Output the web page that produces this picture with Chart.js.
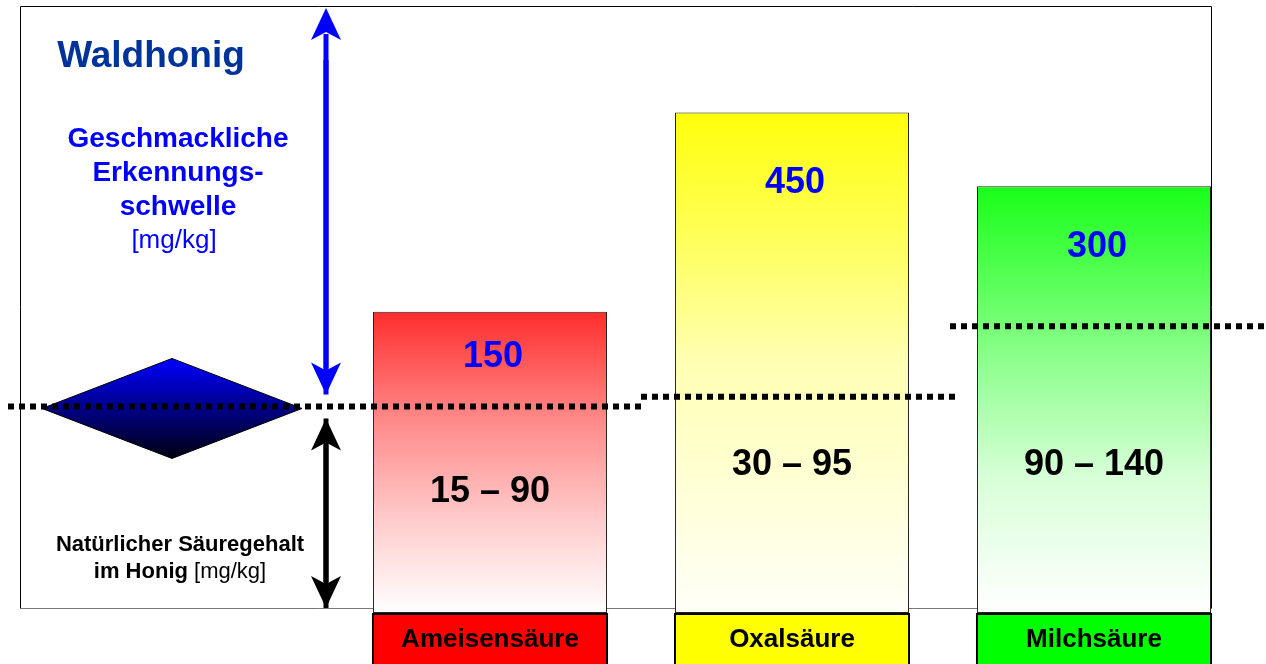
<!DOCTYPE html>
<html><head><meta charset="utf-8">
<script src="https://cdn.jsdelivr.net/npm/chart.js@4"></script>
<style>html,body{margin:0;padding:0;background:#fff;}canvas{display:block;}</style>
</head><body>
<canvas id="c" width="1266" height="664"></canvas>
<script>
// ---- data ----
const categories = ['Ameisensäure', 'Oxalsäure', 'Milchsäure'];
const tasteThreshold = [150, 450, 300];   // Geschmackliche Erkennungsschwelle [mg/kg]
const naturalLow = [15, 30, 90];          // Natürlicher Säuregehalt im Honig, untere Grenze [mg/kg]
const naturalHigh = [90, 95, 140];        // Natürlicher Säuregehalt im Honig, obere Grenze [mg/kg]
const title = 'Waldhonig';
const thresholdText = ['Geschmackliche', 'Erkennungs-', 'schwelle'];
const unitText = '[mg/kg]';
const naturalText = ['Natürlicher Säuregehalt', 'im Honig'];

// ---- styles ----
const barGradients = [
  [[0, 'rgb(255,45,45)'], [0.35, 'rgb(255,135,135)'], [0.7, 'rgb(255,205,205)'], [1, 'rgb(255,255,255)']],
  [[0, 'rgb(255,255,10)'], [0.25, 'rgb(255,255,90)'], [0.5, 'rgb(255,255,180)'], [1, 'rgb(255,255,248)']],
  [[0, 'rgb(25,255,25)'], [0.35, 'rgb(125,255,125)'], [0.68, 'rgb(215,255,215)'], [1, 'rgb(255,255,255)']]
];
const labelColors = ['#ff0000', '#ffff00', '#00ff00'];
const FONT = "'Liberation Sans', Arial, Helvetica, sans-serif";

function arrow(c, x, y1, y2, color) {
  const dir = Math.sign(y2 - y1);
  const headL = 32, headW = 15;
  c.save();
  c.strokeStyle = color; c.fillStyle = color; c.lineWidth = 5;
  c.beginPath(); c.moveTo(x, y1); c.lineTo(x, y2 - dir * (headL - 6)); c.stroke();
  c.beginPath();
  c.moveTo(x, y2);
  c.lineTo(x - headW, y2 - dir * headL);
  c.lineTo(x, y2 - dir * (headL - 8));
  c.lineTo(x + headW, y2 - dir * headL);
  c.closePath(); c.fill();
  c.restore();
}

const deco = {
  id: 'deco',
  beforeDatasetsDraw(chart) {
    const c = chart.ctx;
    const meta = chart.getDatasetMeta(0);
    const last = meta.data[meta.data.length - 1];
    const right = Math.round(last.x + last.width / 2) + 0.5;
    c.save();
    c.lineWidth = 1;
    c.strokeStyle = '#000';
    c.beginPath();
    c.moveTo(20.5, 608.5); c.lineTo(20.5, 6.5); c.lineTo(right, 6.5); c.lineTo(right, 608.5);
    c.stroke();
    c.strokeStyle = '#777';
    c.beginPath(); c.moveTo(20.5, 608.5); c.lineTo(right, 608.5); c.stroke();
    c.restore();
  },
  afterDatasetsDraw(chart) {
    const c = chart.ctx;
    const ys = chart.scales.y;
    const bars = chart.getDatasetMeta(0).data;
    const yHigh = naturalHigh.map(v => ys.getPixelForValue(v) + 2);
    const W = chart.width;

    // diamond (Waldhonig marker)
    const dx = 172, dy = yHigh[0] + 2, hw = 130, hh = 50;
    c.save();
    const g = c.createLinearGradient(0, dy - hh, 0, dy + hh);
    g.addColorStop(0, '#0000ff'); g.addColorStop(1, '#000010');
    c.fillStyle = g; c.strokeStyle = '#000'; c.lineWidth = 1;
    c.beginPath();
    c.moveTo(dx, dy - hh); c.lineTo(dx + hw, dy); c.lineTo(dx, dy + hh); c.lineTo(dx - hw, dy); c.closePath();
    c.fill(); c.stroke();
    c.restore();

    // dotted level lines (upper natural content)
    const b1 = (bars[0].x + bars[1].x) / 2;
    const b2 = (bars[1].x + bars[2].x) / 2;
    const segs = [[8, b1], [b1, b2 + 14], [b2 + 7, W]];
    c.save();
    c.strokeStyle = '#000'; c.lineWidth = 6; c.setLineDash([6, 5]);
    segs.forEach((s, i) => {
      c.beginPath(); c.moveTo(s[0], yHigh[i]); c.lineTo(s[1], yHigh[i]); c.stroke();
    });
    c.restore();

    // arrows
    arrow(c, 326, yHigh[0] - 12, 8, '#0000ff');
    arrow(c, 326, 60, yHigh[0] - 12, '#0000ff');
    arrow(c, 326, 608, yHigh[0] + 12, '#000');
    arrow(c, 326, yHigh[0] + 12, 608, '#000');

    // texts left
    c.save();
    c.textAlign = 'center'; c.textBaseline = 'middle';
    c.fillStyle = '#003399'; c.font = 'bold 37px ' + FONT;
    c.fillText(title, 151, 57);
    c.fillStyle = '#0000ff'; c.font = 'bold 28px ' + FONT;
    thresholdText.forEach((t, i) => c.fillText(t, 178, 139 + i * 34));
    c.font = '26px ' + FONT;
    c.fillText(unitText, 174, 241);

    c.fillStyle = '#000'; c.font = 'bold 22px ' + FONT;
    c.fillText(naturalText[0], 180, 545);
    const bw = c.measureText(naturalText[1] + ' ').width;
    c.font = '22px ' + FONT;
    const uw = c.measureText(unitText).width;
    const sx = 180 - (bw + uw) / 2;
    c.textAlign = 'left';
    c.font = 'bold 22px ' + FONT;
    c.fillText(naturalText[1] + ' ', sx, 572);
    c.font = '22px ' + FONT;
    c.fillText(unitText, sx + bw, 572);
    c.restore();

    // bar texts
    c.save();
    c.textAlign = 'center'; c.textBaseline = 'middle';
    bars.forEach((b, i) => {
      c.fillStyle = '#0000ff'; c.font = 'bold 36px ' + FONT;
      c.fillText(String(tasteThreshold[i]), b.x + 3, b.y + (672 - b.y) * 0.126);
      c.fillStyle = '#000';
      c.fillText(naturalLow[i] + ' – ' + naturalHigh[i], b.x, Math.max(b.y + 180, 465));
    });
    c.restore();

    // category label boxes
    c.save();
    bars.forEach((b, i) => {
      const l = b.x - b.width / 2, w = b.width;
      c.fillStyle = labelColors[i];
      c.fillRect(l, 614, w, 60);
      c.strokeStyle = '#000'; c.lineWidth = 2;
      c.strokeRect(l, 614, w, 60);
      c.fillStyle = '#000'; c.font = 'bold 26px ' + FONT;
      c.textAlign = 'center'; c.textBaseline = 'middle';
      c.fillText(categories[i], b.x, 640);
    });
    c.restore();
  }
};

new Chart(document.getElementById('c'), {
  type: 'bar',
  data: {
    labels: categories,
    datasets: [{
      data: tasteThreshold,
      backgroundColor: (ctx) => {
        const chart = ctx.chart, area = chart.chartArea;
        const stops = barGradients[ctx.dataIndex] || barGradients[0];
        if (!area || ctx.type !== 'data') return stops[0][1];
        const top = chart.scales.y.getPixelForValue(ctx.raw);
        const g = chart.ctx.createLinearGradient(0, top, 0, area.bottom);
        stops.forEach(s => g.addColorStop(s[0], s[1]));
        return g;
      },
      borderColor: '#222',
      borderWidth: 1,
      borderSkipped: false,
      barPercentage: 0.775,
      categoryPercentage: 1.0
    }]
  },
  options: {
    responsive: false,
    devicePixelRatio: 1,
    animation: false,
    layout: { padding: { left: 339, right: 21, top: 6, bottom: 51 } },
    plugins: { legend: { display: false }, tooltip: { enabled: false } },
    scales: {
      x: { display: false },
      y: { type: 'logarithmic', display: false, min: 28.5, max: 810, bounds: 'data' }
    }
  },
  plugins: [deco]
});
</script>
</body></html>
